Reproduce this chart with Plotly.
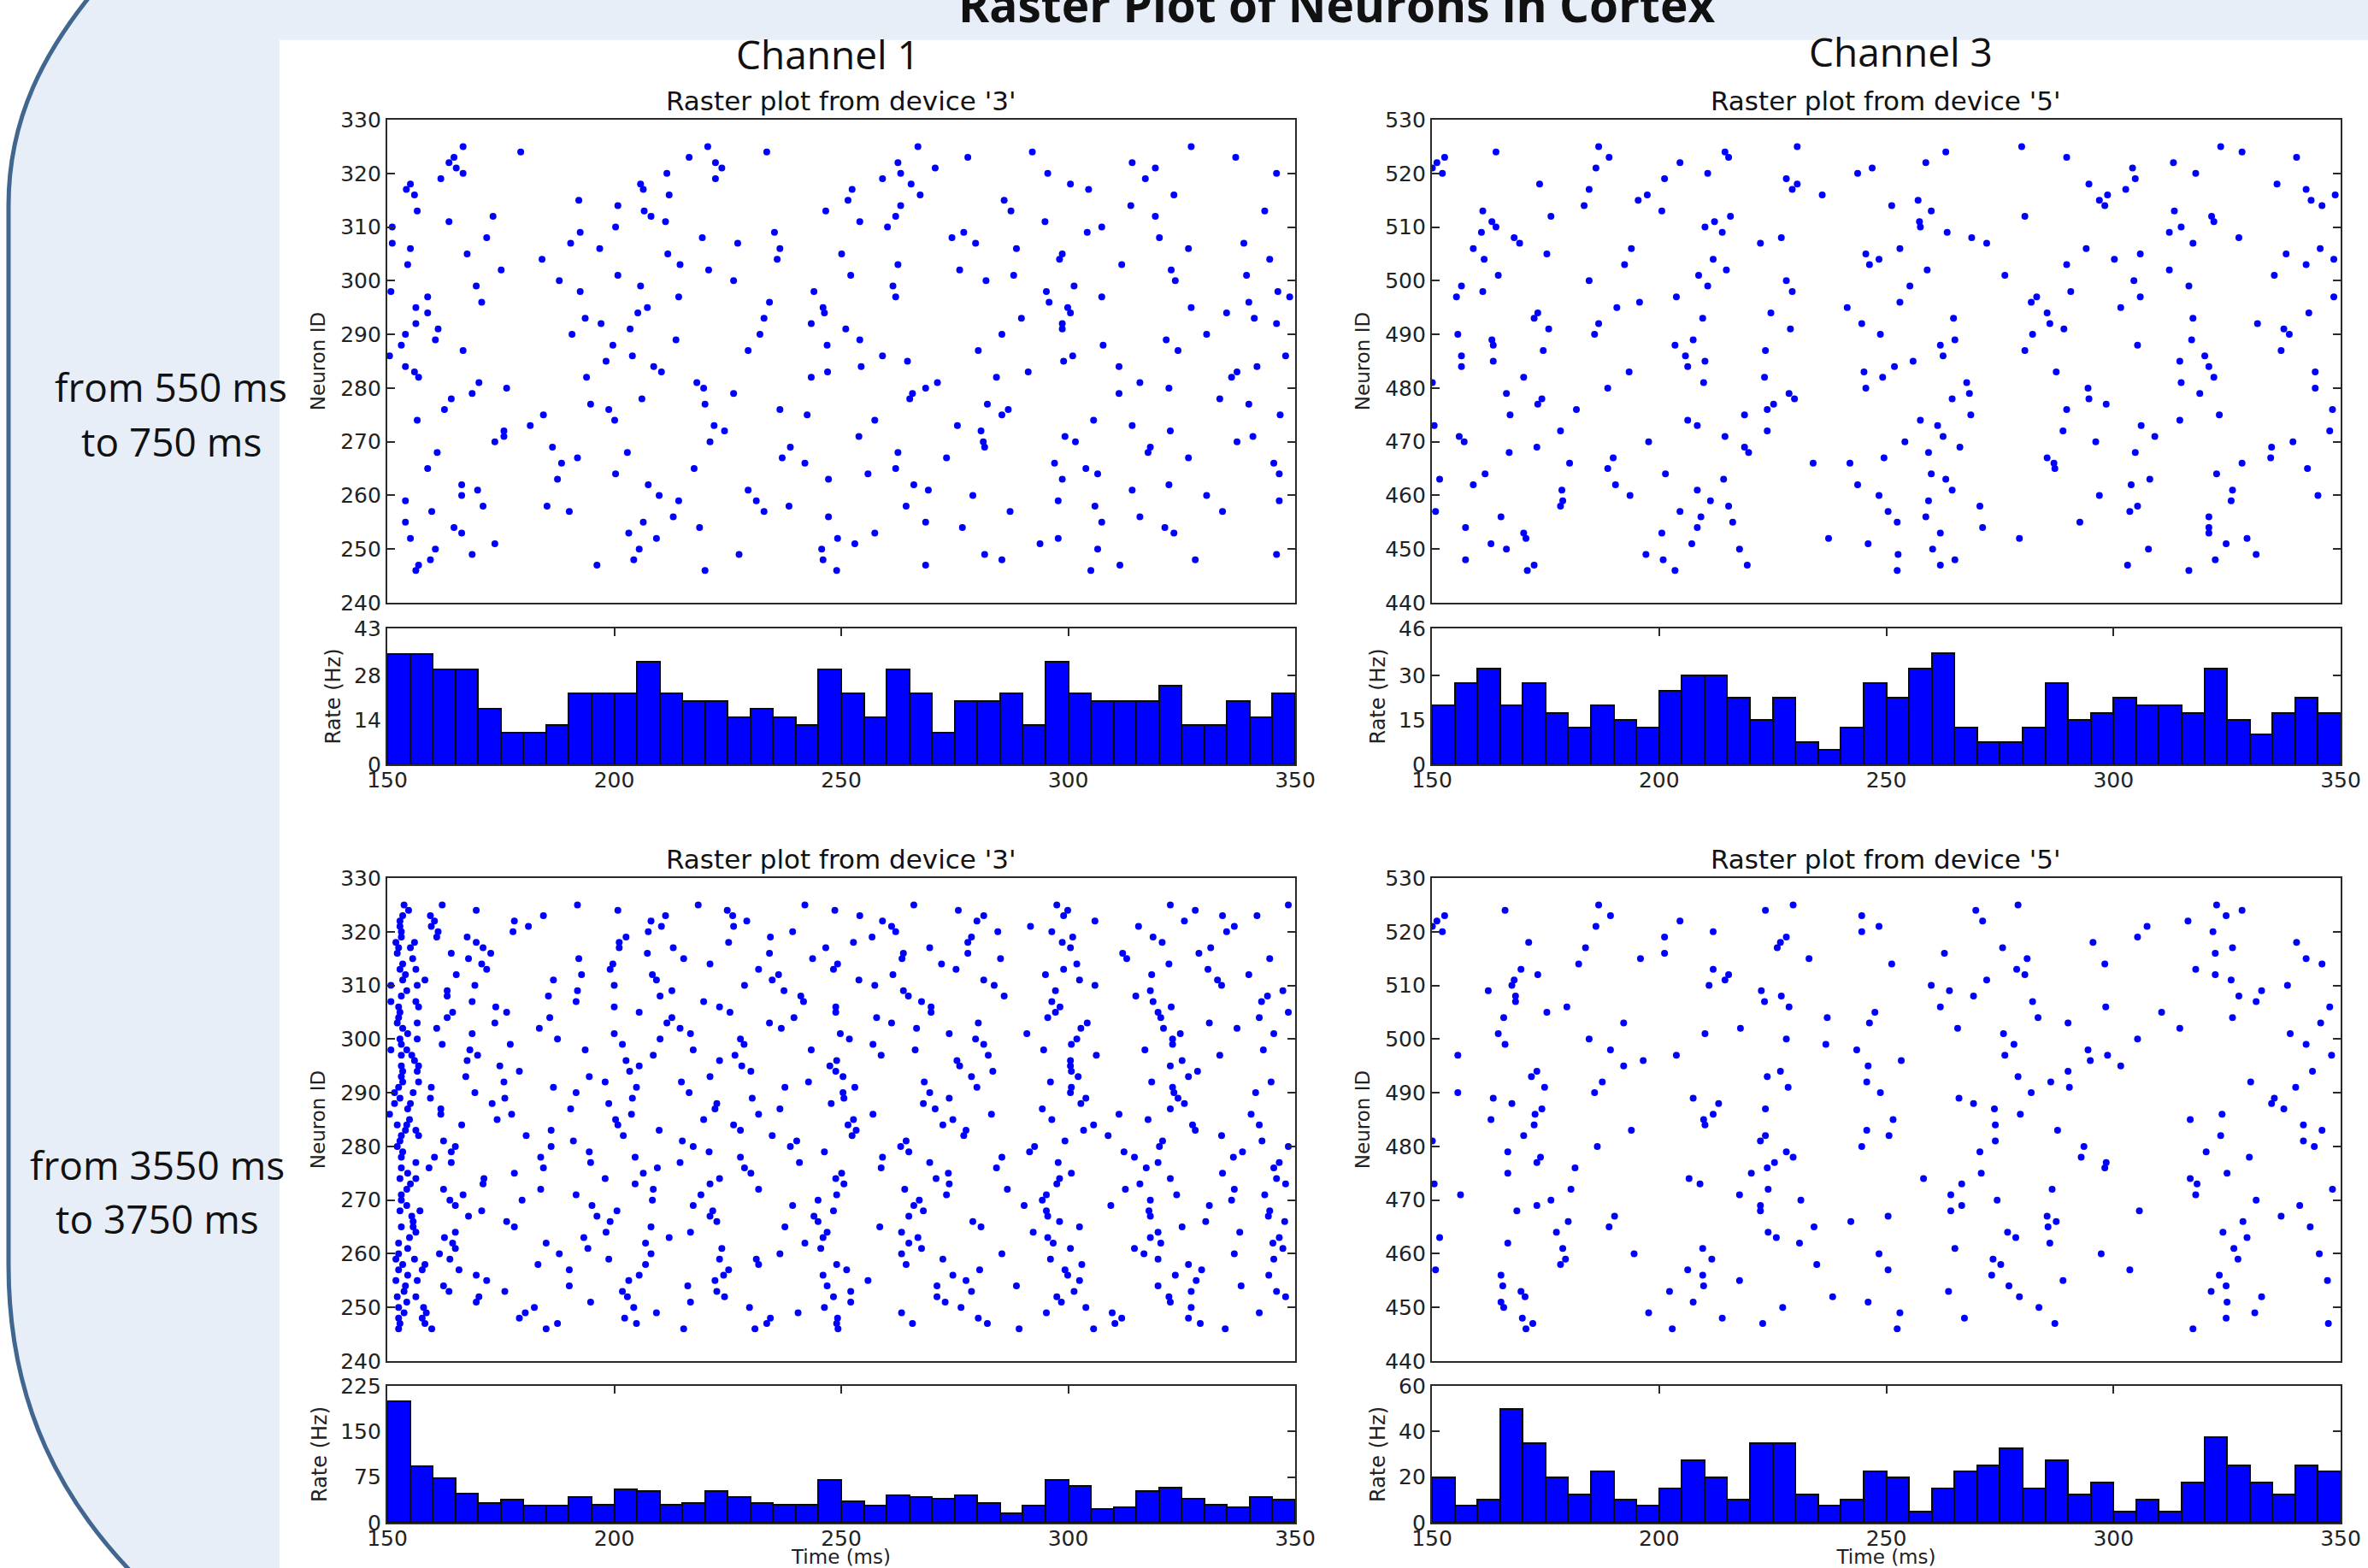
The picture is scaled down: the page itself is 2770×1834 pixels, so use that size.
import plotly.graph_objects as go

W, H = 2770, 1834

# Spike times (ms) per neuron ID
SPIKES_550_CH1 = [
(325,[166.7,220.6,266.9,327.1]),(324,[179.4,233.6,292.1]),(323,[164.7,216.5,277.9,336.9]),(322,[163.6,222.3,262.5,314.1]),
(321,[165.2,223.7,270.7,319.2]),(320,[166.7,211.6,263.1,295.5,345.9]),(319,[161.8,222.3,259.1,317.0]),(318,[155.1,205.8,265.4,300.5]),
(317,[154.2,206.4,252.4,304.5]),(316,[156.0,212.1,267.4,323.3]),(315,[192.2,251.5,285.9]),(314,[200.8,263.1,313.8]),
(313,[156.6,206.6,246.6,287.4,343.3]),(312,[173.3,208.1,262.0,319.2]),(311,[163.6,211.3,254.1,294.9]),(310,[151.1,200.3,260.2,307.4]),
(309,[192.5,235.3,277.0,304.2]),(308,[171.9,219.4,274.4,320.1]),(307,[151.1,190.4,227.2,279.6,338.7]),(306,[155.1,196.8,236.5,288.6,326.5]),
(305,[167.6,211.8,250.1,298.7]),(304,[184.1,235.9,298.1,344.4]),(303,[154.5,214.5,262.5,311.8]),(302,[175.1,220.8,276.1,322.7]),
(301,[200.8,252.1,288.0,339.3]),(300,[187.9,226.3,281.9,323.6]),(299,[169.6,205.8,261.4,301.3]),(298,[150.8,192.5,244.0,295.2,346.2]),
(297,[158.9,214.2,262.0,307.4,348.8]),(296,[170.8,234.2,295.8,339.8]),(295,[156.3,207.3,246.0,299.9,327.1]),(294,[158.9,205.2,246.3,300.5,334.9]),
(293,[193.6,233.0,289.7,341.0]),(292,[156.3,197.1,243.4,298.7,345.9]),(291,[161.2,203.5,251.0,298.7]),(290,[154.0,190.7,232.1,285.4,330.5]),
(289,[160.6,213.6,254.1,321.6]),(288,[153.1,199.7,246.9,307.7]),(287,[166.7,229.5,280.2,324.2]),(286,[150.5,204.0,259.1,301.0,347.9]),
(285,[198.2,264.6,299.0]),(284,[154.0,208.7,254.4,311.2,341.6]),(283,[156.0,210.4,247.0,291.2,337.2]),(282,[156.9,193.9,243.4,284.2,336.0]),
(281,[170.2,218.2,271.2,315.8]),(280,[176.3,219.7,268.6,322.2]),(279,[168.7,226.3,265.7,311.2]),(278,[164.1,206.1,265.1,333.4]),
(277,[194.8,220.0,282.2,339.8]),(276,[162.6,198.8,236.5,286.8]),(275,[184.4,242.5,285.4,346.7]),(274,[156.6,200.1,257.4,305.6]),
(273,[181.5,222.0,275.6,314.1]),(272,[175.7,224.3,280.8,322.5]),(271,[175.7,253.9,299.3,340.7]),(270,[173.7,221.1,281.3,301.6,337.2]),
(269,[186.4,238.8,281.6,318.1]),(268,[161.0,202.9,262.5,317.6]),(267,[191.9,237.0,273.2,326.5]),(266,[188.4,242.0,297.0,345.3]),
(265,[158.9,217.6,262.0,303.9]),(264,[200.3,255.9,306.5,346.5]),(263,[187.5,247.2,298.7]),(262,[166.4,207.5,266.0,322.2]),
(261,[169.9,229.5,269.2,314.1]),(260,[166.4,209.9,279.0,330.5]),(259,[154.0,214.2,231.3,297.8,346.5]),(258,[171.1,185.2,238.5,264.3,305.9]),
(257,[159.8,190.1,233.0,287.2,334.0]),(256,[213.0,247.2,315.8]),(255,[154.0,206.4,268.6,307.4]),(254,[164.7,218.8,276.7,321.3]),
(253,[166.4,203.2,257.4,323.3]),(252,[155.1,209.3,249.2,297.8]),(251,[173.7,253.0,293.8]),(250,[160.6,205.5,245.7,306.5]),
(249,[168.7,227.5,281.6,345.9]),(248,[159.5,204.3,246.0,285.4,328.0]),(247,[156.9,196.2,268.6,311.4]),(246,[156.3,220.0,249.0,305.0]),
]

SPIKES_550_CH3 = [
(525,[186.7,230.4,279.8,323.6]),(524,[164.1,214.5,263.1,328.3]),(523,[152.8,189.0,215.3,289.7,340.3]),(522,[151.1,204.6,258.7,313.2]),
(521,[150.1,186.1,246.9,304.2]),(520,[152.3,210.7,243.7,318.1]),(519,[201.2,228.0,304.8]),(518,[173.7,230.4,294.6,336.0]),
(517,[184.6,229.3,302.7,342.4]),(516,[197.4,235.9,298.7,348.8]),(515,[195.4,257.0,296.9,343.5]),(514,[183.5,251.2,298.1,345.9]),
(513,[161.2,200.6,259.9,313.4]),(512,[176.2,215.7,280.5,321.6]),(511,[163.2,212.2,257.3,322.1]),(510,[164.1,210.1,257.5,314.9]),
(509,[160.9,213.9,263.4,312.3]),(508,[168.1,226.9,268.8,327.6]),(507,[169.3,222.3,272.1,317.5]),(506,[159.1,193.9,253.0,294.0,345.5]),
(505,[175.3,245.5,305.9,338.0]),(504,[161.5,211.9,248.4,300.2,348.5]),(503,[192.4,246.3,289.7,342.4]),(502,[214.8,259.0,312.3]),
(501,[164.6,208.7,276.1,335.4]),(500,[184.6,228.0,304.5]),(499,[156.5,210.7,255.2,316.6]),(498,[161.2,229.3,290.6]),
(497,[155.4,203.8,283.1,305.9,348.5]),(496,[195.7,253.0,281.9]),(495,[190.7,241.4,301.6]),(494,[173.3,224.6,285.4,343.0]),
(493,[172.5,209.6,264.8,317.5]),(492,[186.7,244.6,286.0,331.7]),(491,[175.7,228.9,289.1,337.5]),(490,[155.7,185.8,248.7,282.2,338.7]),
(489,[163.2,207.5,265.1,317.2]),(488,[163.5,203.5,261.9,305.3]),(487,[174.5,223.4,280.5,336.9]),(486,[156.5,205.8,262.5,320.1]),
(485,[163.5,210.1,255.9,314.6]),(484,[156.5,206.3,251.8,321.0]),(483,[193.4,245.1,287.4,344.4]),(482,[170.2,223.2,249.2,322.1]),
(481,[150.1,209.8,267.7,314.9]),(480,[188.7,245.5,294.4,344.4]),(479,[166.4,228.6,268.3,319.0]),(478,[174.2,229.8,264.5,294.6]),
(477,[173.3,225.2,298.4]),(476,[181.8,223.8,289.7,348.2]),(475,[167.2,218.8,268.6,323.3]),(474,[206.3,257.5,314.6]),
(473,[150.5,208.4,261.3,306.1]),(472,[178.3,223.8,288.9,347.6]),(471,[156.0,214.5,262.5,309.1]),(470,[157.1,197.7,254.1,296.1,339.5]),
(469,[173.1,218.8,266.2,334.8]),(468,[167.0,219.7,259.3,304.8]),(467,[189.9,249.5,285.4,334.6]),(466,[180.3,233.9,242.0,286.9,328.3]),
(465,[188.7,287.1,342.7]),(464,[161.7,201.4,259.9,322.7]),(463,[151.7,214.2,263.1,308.0]),(462,[159.1,190.4,243.7,303.9]),
(461,[178.6,208.4,264.5,326.2]),(460,[193.6,248.4,296.9,345.0]),(459,[178.8,211.3,259.3,325.9]),(458,[178.3,215.3,270.6,305.3]),
(457,[150.8,204.6,250.4,303.6]),(456,[165.2,209.2,258.7,321.0]),(455,[216.2,252.4,292.6]),(454,[157.4,208.4,271.2,321.0]),
(453,[170.2,200.6,261.9,321.0]),(452,[170.7,237.3,279.3,329.4]),(451,[163.0,207.2,246.0,324.8]),(450,[166.4,217.7,260.2,307.7]),
(449,[197.1,252.6,331.4]),(448,[157.4,200.9,265.1,322.4]),(447,[172.5,219.4,261.9,303.1]),(446,[171.0,203.5,252.4,316.6]),
]

SPIKES_3550_CH1 = [
(325,[153.7,162.1,191.9,218.5,242.0,266.0,297.5,322.5,348.5]),(324,[154.7,169.6,200.8,224.9,248.6,275.8,299.9,328.0]),
(323,[153.4,159.5,184.4,211.3,226.1,254.1,281.4,299.0,334.0,341.6]),(322,[152.8,160.4,178.0,208.1,229.2,259.1,279.9,305.9,325.6]),
(321,[152.8,159.7,181.1,210.4,226.3,261.1,291.7,315.5,336.6]),(320,[153.1,161.2,177.7,207.5,239.3,262.0,284.5,296.4,334.9]),
(319,[153.1,160.9,167.6,202.6,234.4,256.8,278.7,301.0,318.7]),(318,[151.9,156.0,169.6,201.1,225.2,252.7,277.9,298.7,320.7]),
(317,[152.5,155.1,171.1,201.1,213.0,246.6,269.5,300.5,331.4]),(316,[152.2,164.1,172.8,207.3,234.2,263.7,277.9,312.0,328.8]),
(315,[155.6,167.9,192.2,215.3,243.7,263.4,285.1,312.9,344.4]),(314,[153.4,170.8,199.7,221.1,249.2,272.1,301.9,322.2]),
(313,[152.8,156.3,171.9,199.1,231.8,248.3,275.3,299.0,330.8]),(312,[154.0,165.2,192.8,208.4,236.2,261.4,295.0,318.4,339.8]),
(311,[153.4,158.3,186.6,209.3,234.8,253.9,281.4,302.5,332.9]),(310,[150.8,156.6,169.3,200.0,228.7,257.4,283.7,305.9,333.8]),
(309,[154.3,163.2,191.9,212.7,237.4,263.7,297.2,318.1,347.3]),(308,[153.1,163.2,185.5,210.1,241.1,264.8,285.9,314.9,343.9]),
(307,[150.8,156.3,168.7,191.6,219.7,241.7,267.7,296.4,318.7,342.6]),(306,[152.5,156.9,173.9,200.0,223.2,248.8,269.8,298.2,322.7]),
(305,[152.8,164.4,176.3,205.5,225.5,248.8,269.8,297.2,319.8,348.5]),(304,[152.5,163.2,185.8,212.7,239.6,257.8,295.5,320.4,342.1]),
(303,[152.2,156.6,173.7,211.6,234.2,261.1,280.2,304.2,331.1]),(302,[153.4,160.9,183.5,214.5,236.8,266.6,302.8,321.0,337.2]),
(301,[154.5,168.7,200.0,216.8,249.8,273.8,290.9,324.7,345.3]),(300,[152.8,156.6,187.5,210.1,227.8,251.8,279.6,301.9,323.0]),
(299,[153.1,162.1,177.1,201.8,228.6,257.0,281.4,300.7,323.0]),(298,[150.8,154.3,168.2,193.6,217.4,243.4,266.3,294.6,316.9,343.0]),
(297,[153.1,155.4,169.9,208.6,226.6,258.8,282.4,306.2,333.4]),(296,[156.0,167.6,202.6,223.2,249.0,275.5,300.5,325.1]),
(295,[153.1,156.9,174.8,205.5,228.1,247.5,276.1,300.5,322.5]),(294,[153.4,156.6,179.1,203.4,230.1,248.8,283.4,300.7,328.5]),
(293,[153.1,167.3,194.5,221.1,250.4,278.7,302.2,326.5]),(292,[153.4,156.9,175.7,198.0,214.8,242.8,268.3,296.1,318.4,344.7]),
(291,[152.5,159.7,186.6,204.9,237.6,253.0,279.9,300.7,323.0]),(290,[151.6,155.7,169.3,191.6,216.5,250.4,269.5,300.5,323.3,341.3]),
(289,[152.8,159.5,175.9,204.0,230.4,250.6,273.8,303.9,324.2]),(288,[151.6,155.1,173.1,198.8,222.6,247.8,268.1,302.8,325.6]),
(287,[154.5,161.8,190.4,222.2,236.5,270.7,294.3,322.5]),(286,[150.5,161.8,177.4,203.8,231.8,257.0,283.1,311.2,340.3]),
(285,[154.9,174.2,200.3,219.7,252.7,274.6,296.4,317.6]),(284,[152.2,154.3,166.4,200.8,226.3,251.5,272.4,305.6,327.4,342.1]),
(283,[154.0,156.3,186.1,209.9,227.8,253.3,277.5,303.4,328.0]),(282,[153.1,156.9,180.6,202.0,234.8,252.4,277.0,308.8,333.8]),
(281,[152.8,162.4,191.0,215.0,240.2,264.3,299.3,320.8,342.7]),(280,[152.2,165.0,186.1,217.4,238.8,263.1,292.6,320.1,348.5]),
(279,[153.4,164.1,194.5,220.9,246.3,264.9,291.5,312.3,338.4]),(278,[153.1,160.4,183.8,204.6,227.8,259.1,285.4,314.6,336.4]),
(277,[156.3,164.1,194.8,214.5,240.8,269.5,297.8,319.8,346.5]),(276,[153.1,159.2,184.4,209.5,228.7,258.8,284.2,317.2,345.3]),
(275,[154.5,178.0,206.4,230.1,250.1,273.6,300.7,334.0]),(274,[152.8,156.3,171.3,198.0,223.2,248.8,270.9,298.1,322.5,345.9]),
(273,[155.1,171.1,204.6,221.1,250.6,273.8,297.5,315.8,347.9]),(272,[154.3,162.4,183.8,208.6,231.8,264.0,286.6,312.6,336.6]),
(271,[153.1,166.7,191.6,219.1,249.0,273.2,295.2,323.9,343.3]),(270,[153.1,163.8,179.7,208.4,244.9,267.2,294.3,318.1,336.0]),
(269,[154.3,165.0,195.1,217.4,239.3,266.0,290.3,309.4,331.1]),(268,[152.8,157.2,170.8,200.6,221.7,248.3,268.1,295.2,317.8,344.4]),
(267,[155.4,167.9,196.2,221.1,244.0,264.9,295.5,318.1,344.1]),(266,[155.7,176.3,199.1,222.6,244.9,279.0,298.1,330.3,347.7]),
(265,[153.1,155.7,178.0,208.1,237.6,258.5,280.8,302.5,325.1]),(264,[156.3,165.0,198.2,216.8,246.9,263.3,292.3,319.8,337.8]),
(263,[154.9,162.6,193.3,212.1,246.0,266.9,295.5,318.1,346.5]),(262,[152.5,164.4,185.0,206.9,242.0,264.9,296.7,320.4,345.1]),
(261,[154.5,165.0,194.2,223.7,245.5,267.7,300.5,314.6,347.3]),(260,[152.5,161.5,187.9,208.1,236.5,263.3,285.4,316.7,336.6]),
(259,[151.9,156.0,163.8,198.8,223.2,231.3,272.4,296.1,319.8,345.3]),(258,[153.4,158.3,183.2,206.9,231.8,249.0,264.3,303.0,326.5]),
(257,[152.5,157.7,165.8,190.1,225.2,251.2,280.5,299.3,329.4]),(256,[154.5,169.6,205.5,224.1,246.0,274.6,299.9,323.6,344.2]),
(255,[151.9,156.6,171.9,203.2,222.2,255.9,277.5,302.5,328.2]),(254,[154.0,162.4,190.1,216.2,246.9,271.1,288.6,319.8,338.1]),
(253,[153.7,163.6,175.9,201.8,222.6,252.1,278.7,301.3,327.1,345.9]),(252,[152.2,156.3,170.2,202.9,224.3,248.3,271.1,297.5,322.2,347.9]),
(251,[154.3,169.6,194.8,216.8,252.1,272.9,298.5,322.5]),(250,[152.5,158.0,182.4,204.3,229.8,246.3,276.4,303.9,327.1]),
(249,[153.7,158.6,180.4,209.3,240.5,263.3,295.2,309.7,342.1]),(248,[152.5,157.7,179.1,202.3,234.4,249.2,280.2,311.8,326.5]),
(247,[152.8,158.3,187.5,204.9,233.6,249.0,265.7,282.2,310.3,329.1]),(246,[152.5,159.8,185.0,215.3,231.0,249.3,289.2,305.6,334.6]),
]

SPIKES_3550_CH3 = [
(525,[186.7,229.5,279.0,322.7]),(524,[166.1,223.4,269.7,328.3]),(523,[152.8,189.3,244.6,324.8]),(522,[151.1,204.6,271.2,316.4]),
(521,[150.1,186.1,248.4,307.4]),(520,[152.3,211.9,244.6,321.9]),(519,[201.2,228.0,305.3]),(518,[171.3,226.7,295.5,340.3]),
(517,[183.8,226.0,275.6,326.2]),(516,[201.2,262.8,322.4]),(515,[195.9,233.0,281.0,342.4]),(514,[182.3,251.2,298.1,345.9]),
(513,[169.6,211.9,278.7,318.1]),(512,[173.3,215.3,280.5,322.4]),(511,[168.1,214.5,272.1,325.9]),(510,[167.6,211.0,259.9,338.3]),
(509,[162.4,222.5,263.9,332.6]),(508,[168.4,226.9,269.2,327.6]),(507,[168.4,223.2,282.2,331.4]),(506,[179.7,228.6,261.9,298.3,347.6]),
(505,[175.3,247.5,310.6]),(504,[165.8,237.0,283.4,326.2]),(503,[192.2,246.3,290.0,345.6]),(502,[217.9,265.7,314.6]),
(501,[164.6,210.1,275.8,338.9]),(500,[184.6,228.0,305.3]),(499,[166.1,236.7,278.1,342.4]),(498,[189.3,243.5,294.4]),
(497,[155.7,203.8,276.1,298.7,348.0]),(496,[196.5,253.3,294.9]),(495,[192.2,246.0,301.6]),(494,[173.1,226.7,290.0,343.8]),
(493,[171.9,223.8,279.0]),(492,[187.5,245.7,286.2,330.2]),(491,[174.8,228.4,290.3,340.1]),(490,[155.7,185.8,248.7,281.9]),
(489,[163.5,207.5,266.0,335.4]),(488,[167.6,213.1,269.2,334.8]),(487,[174.2,223.4,273.8,337.5]),(486,[172.7,211.9,279.5,323.9]),
(485,[163.0,209.8,251.5,316.9]),(484,[172.5,210.1,274.0,341.8]),(483,[193.9,245.7,287.7,345.9]),(482,[170.2,223.4,250.6,323.6]),
(481,[150.1,222.3,274.0,341.8]),(480,[186.4,244.6,293.5,344.2]),(479,[166.7,228.0,270.6,320.4]),(478,[173.9,229.5,292.9,329.9]),
(477,[173.1,225.4,298.4]),(476,[181.5,223.8,298.1]),(475,[166.7,220.3,270.9,325.0]),(474,[206.6,258.2,316.9]),
(473,[150.5,209.0,266.6,318.4]),(472,[180.6,224.0,286.5,348.2]),(471,[156.3,217.7,264.2,318.1]),(470,[176.2,231.2,274.4,331.4]),
(469,[173.1,222.3,266.6,341.0]),(468,[168.7,222.3,264.2,305.7]),(467,[190.2,250.4,285.4,336.9]),(466,[180.0,242.2,287.4,328.5]),
(465,[189.0,234.1,285.6,343.3]),(464,[177.4,224.0,276.7,324.1]),(463,[151.7,225.8,278.5,329.4]),(462,[166.7,230.9,286.0]),
(461,[178.8,209.6,265.1,326.5]),(460,[194.5,248.4,297.3,345.3]),(459,[179.4,211.6,273.5,327.4]),(458,[178.3,234.7,275.2]),
(457,[150.8,206.3,250.4,303.6]),(456,[165.2,209.6,273.2,323.3]),(455,[217.7,288.9,347.1]),(454,[165.6,209.8,277.0,324.8]),
(453,[169.6,202.3,263.7,321.5]),(452,[170.5,238.2,279.3,332.6]),(451,[165.2,207.5,246.0,325.0]),(450,[165.8,227.2,283.6]),
(449,[197.7,253.0,331.1]),(448,[169.9,213.9,267.2,324.8]),(447,[172.2,222.8,287.1,347.3]),(446,[170.7,202.9,252.4,317.5]),
]

# Histogram rates (Hz) for 5 ms bins
BIN_STARTS = list(range(150, 350, 5))
RATE_550_CH1 = [35,35,30,30,17.5,10,10,12.5,22.5,22.5,22.5,32.5,22.5,20,20,15,17.5,15,12.5,30,22.5,15,30,22.5,10,20,20,22.5,12.5,32.5,22.5,20,20,20,25,12.5,12.5,20,15,22.5]
RATE_550_CH3 = [20,27.5,32.5,20,27.5,17.5,12.5,20,15,12.5,25,30,30,22.5,15,22.5,7.5,5,12.5,27.5,22.5,32.5,37.5,12.5,7.5,7.5,12.5,27.5,15,17.5,22.5,20,20,17.5,32.5,15,10,17.5,22.5,17.5]
RATE_3550_CH1 = [200,92.5,72.5,47.5,32.5,37.5,27.5,27.5,42.5,30,55,52.5,30,32.5,52.5,42.5,32.5,30,30,70,35,27.5,45,42.5,40,45,32.5,15,27.5,70,60,22.5,25,52.5,57.5,40,30,25,42.5,37.5]
RATE_3550_CH3 = [20,7.5,10,50,35,20,12.5,22.5,10,7.5,15,27.5,20,10,35,35,12.5,7.5,10,22.5,20,5,15,22.5,25,32.5,15,27.5,12.5,17.5,5,10,5,17.5,37.5,25,17.5,12.5,25,22.5]

ID_TICKS_CH1 = [240,250,260,270,280,290,300,310,320,330]
ID_TICKS_CH3 = [440,450,460,470,480,490,500,510,520,530]
RATE_TICKS_A = [0,14,28,43]
RATE_TICKS_B = [0,15,30,46]
RATE_TICKS_C = [0,75,150,225]
RATE_TICKS_D = [0,20,40,60]
TIME_TICKS = [150,200,250,300,350]

BLUE = "#0000ff"
LINE = "#2a2a2a"
MPL = "DejaVu Sans"
SLIDE = "Open Sans"
TICK = dict(family=MPL, size=25, color="#222")

def px(x): return x / W
def py(y): return 1 - y / H

fig = go.Figure()
panels = [
    (SPIKES_550_CH1, RATE_550_CH1, ID_TICKS_CH1, RATE_TICKS_A, 453, 1515, 140, 705, 735, 894, False),
    (SPIKES_550_CH3, RATE_550_CH3, ID_TICKS_CH3, RATE_TICKS_B, 1675, 2738, 140, 705, 735, 894, False),
    (SPIKES_3550_CH1, RATE_3550_CH1, ID_TICKS_CH1, RATE_TICKS_C, 453, 1515, 1027, 1592, 1621, 1781, True),
    (SPIKES_3550_CH3, RATE_3550_CH3, ID_TICKS_CH3, RATE_TICKS_D, 1675, 2738, 1027, 1592, 1621, 1781, True),
]
axis_ids = [("", "2"), ("3", "4"), ("5", "6"), ("7", "8")]
for (ra, ba), p in zip(axis_ids, panels):
    spikes, rate, idt, rt, x0, x1, y0, y1, y2, y3, time_label = p
    xs = [t for _, ts in spikes for t in ts]
    ys = [n for n, ts in spikes for _ in ts]
    fig.add_trace(go.Scatter(x=xs, y=ys, mode="markers", showlegend=False,
                             marker=dict(color=BLUE, size=8, line=dict(width=0)),
                             xaxis="x"+ra, yaxis="y"+ra))
    fig.add_trace(go.Bar(x=BIN_STARTS, y=rate, width=5, offset=0, showlegend=False,
                         marker=dict(color=BLUE, line=dict(color="#0a0a0a", width=2)),
                         xaxis="x"+ba, yaxis="y"+ba))
    common = dict(showgrid=False, zeroline=False, showline=True, linecolor=LINE, linewidth=2.2)
    fig.update_layout({
        "xaxis"+ra: dict(common, domain=[px(x0), px(x1)], range=[150,350], anchor="y"+ra,
                         showticklabels=False, ticks="", mirror=True),
        "yaxis"+ra: dict(common, domain=[py(y1), py(y0)], range=[idt[0], idt[-1]], anchor="x"+ra,
                         tickvals=idt, ticks="inside", ticklen=9, tickcolor=LINE, tickwidth=1.5,
                         mirror="ticks", tickfont=TICK,
                         title=dict(text="Neuron ID", standoff=11, font=dict(family=MPL, size=23, color="#222"))),
        "xaxis"+ba: dict(common, domain=[px(x0), px(x1)], range=[150,350], anchor="y"+ba,
                         tickvals=TIME_TICKS, ticks="inside", ticklen=9, tickcolor=LINE, tickwidth=1.5,
                         mirror="ticks", tickfont=TICK, layer="below traces", ticklabelstandoff=-5,
                         title=dict(text="Time (ms)" if time_label else None, standoff=24,
                                    font=dict(family=MPL, size=23, color="#222"))),
        "yaxis"+ba: dict(common, domain=[py(y3), py(y2)], range=[rt[0], rt[-1]], anchor="x"+ba,
                         tickvals=rt, ticks="inside", ticklen=9, tickcolor=LINE, tickwidth=1.5,
                         mirror="ticks", tickfont=TICK, layer="below traces",
                         title=dict(text="Rate (Hz)", standoff=9, font=dict(family=MPL, size=24, color="#222"))),
    })

def note(text, x, y, size, family=SLIDE, bold=False):
    t = f"<b>{text}</b>" if bold else text
    fig.add_annotation(text=t, xref="paper", yref="paper", x=px(x), y=py(y), xanchor="center", yanchor="middle",
                       showarrow=False, font=dict(family=family, size=size, color="#111"))

note("Raster Plot of Neurons in Cortex", 1563, 5, 55, bold=True)
note("Channel 1", 968, 63, 46)
note("Channel 3", 2223, 60, 46)
for cx in (984, 2206):
    for cy in (118, 1005):
        d = "3" if cx == 984 else "5"
        note(f"Raster plot from device '{d}'", cx, cy, 31, family=MPL)
note("from 550 ms", 200, 452, 46)
note("to 750 ms", 200, 516, 46)
note("from 3550 ms", 184, 1362, 46)
note("to 3750 ms", 184, 1425, 46)

def P(x, y): return f"{px(x):.5f},{py(y):.5f}"
panel_path = (f"M {P(118,-20)} C {P(50,60)} {P(10,140)} {P(10,240)} L {P(10,1480)} "
              f"C {P(10,1640)} {P(70,1760)} {P(175,1860)} L {P(2800,1860)} L {P(2800,-20)} Z")
fig.add_shape(type="path", path=panel_path, xref="paper", yref="paper", layer="below",
              fillcolor="#e8eef7", line=dict(color="#41668f", width=5))
fig.add_shape(type="rect", xref="paper", yref="paper", x0=px(327), x1=1.01, y0=-0.01, y1=py(46.7), layer="below",
              fillcolor="white", line=dict(width=0))

fig.update_layout(width=W, height=H, margin=dict(l=0, r=0, t=0, b=0), template="none",
                  paper_bgcolor="white", plot_bgcolor="rgba(0,0,0,0)", bargap=0, barmode="overlay", showlegend=False)
fig.write_html("out.html", config=dict(displayModeBar=False),
               post_script="document.body.style.margin='0';document.documentElement.style.overflow='hidden';")
